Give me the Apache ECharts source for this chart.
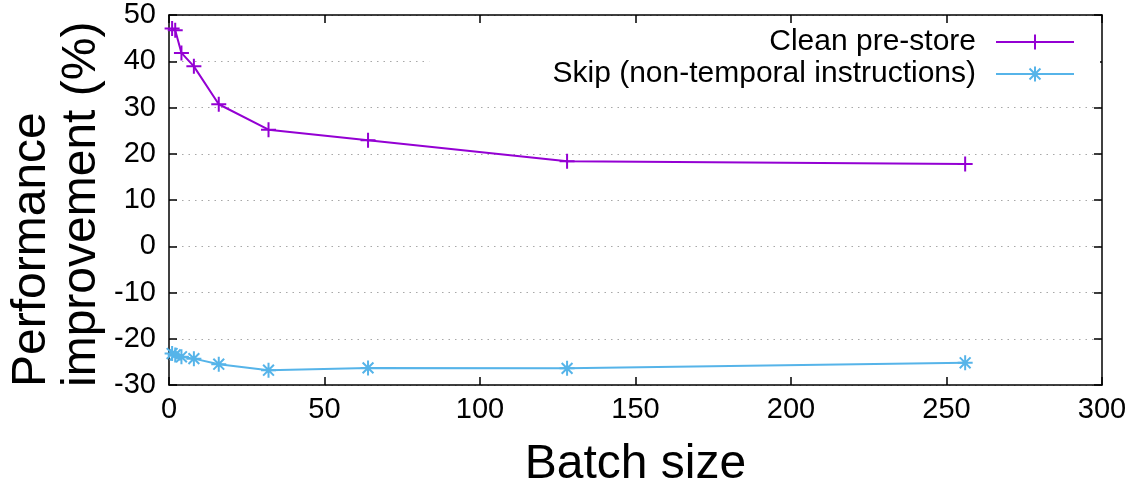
<!DOCTYPE html>
<html>
<head>
<meta charset="utf-8">
<script src="https://cdn.jsdelivr.net/npm/echarts@6/dist/echarts.min.js"></script>
<style>
  html, body { margin: 0; padding: 0; background: #fff; }
  #chart { width: 1139px; height: 487px; }
</style>
</head>
<body>
<div id="chart"></div>
<script>
// Batch sizes on the x axis
const batchSizes = [1, 2, 4, 8, 16, 32, 64, 128, 256];
// Performance improvement (%) for each batch size
const cleanPreStore = [47.1, 46.7, 41.8, 38.9, 30.7, 25.2, 22.9, 18.4, 17.8];
const skipNonTemporal = [-23.2, -23.5, -23.9, -24.3, -25.5, -26.8, -26.3, -26.4, -25.2];
// Axis tick values
const xTicks = [0, 50, 100, 150, 200, 250, 300];
const yTicks = [-30, -20, -10, 0, 10, 20, 30, 40, 50];

const seriesNames = ['Clean pre-store', 'Skip (non-temporal instructions)'];
const FONT = '"Liberation Sans", Arial, sans-serif';
const PURPLE = '#9400d3';
const BLUE = '#56b4e9';
const PLUS = 'path://M0,-1L0,1M-1,0L1,0';
const STAR = 'path://M0,-1L0,1M-1,0L1,0M-0.72,-0.72L0.72,0.72M-0.72,0.72L0.72,-0.72';

const toPairs = (ys) => batchSizes.map((x, i) => [x, ys[i]]);

const axisLine = { show: true, onZero: false, lineStyle: { color: '#000', width: 1.5 } };
const axisTick = { show: true, inside: true, length: 8, lineStyle: { color: '#000', width: 1.5 } };
const tickFont = { color: '#000', fontFamily: FONT, fontSize: 29 };

const xRange = { min: xTicks[0], max: xTicks[xTicks.length - 1], interval: xTicks[1] - xTicks[0] };
const yRange = { min: yTicks[0], max: yTicks[yTicks.length - 1], interval: yTicks[1] - yTicks[0] };

const chart = echarts.init(document.getElementById('chart'), null, { renderer: 'canvas' });

chart.setOption({
  animation: false,
  backgroundColor: '#fff',
  grid: { left: 169, right: 37, top: 15, bottom: 102, containLabel: false, outerBoundsMode: 'none' },
  xAxis: [
    Object.assign({
      type: 'value', position: 'bottom',
      axisLine, axisTick,
      axisLabel: Object.assign({ margin: 10 }, tickFont),
      splitLine: { show: false },
      name: 'Batch size', nameLocation: 'middle', nameGap: 56,
      nameTextStyle: { color: '#000', fontFamily: FONT, fontSize: 48 }
    }, xRange),
    Object.assign({
      type: 'value', position: 'top',
      axisLine, axisTick,
      axisLabel: { show: false },
      splitLine: { show: false }
    }, xRange)
  ],
  yAxis: [
    Object.assign({
      type: 'value', position: 'left',
      axisLine, axisTick,
      axisLabel: Object.assign({ margin: 13 }, tickFont),
      splitLine: { show: true, lineStyle: { color: '#a8a8a8', width: 1.2, type: [1.5, 5] } }
    }, yRange),
    Object.assign({
      type: 'value', position: 'right',
      axisLine, axisTick,
      axisLabel: { show: false },
      splitLine: { show: false }
    }, yRange)
  ],
  legend: [
    {
      data: [seriesNames[0]],
      align: 'right', right: 39, top: 23,
      padding: [4, 25, 45, 340],
      backgroundColor: '#fff',
      itemWidth: 78, itemHeight: 19,
      textStyle: { color: '#000', fontFamily: FONT, fontSize: 30, padding: [0, 15, 0, 0] },
      selectedMode: false
    },
    {
      data: [seriesNames[1]],
      align: 'right', right: 64, top: 59,
      padding: 0,
      itemWidth: 78, itemHeight: 19,
      textStyle: { color: '#000', fontFamily: FONT, fontSize: 30, padding: [0, 15, 0, 0] },
      selectedMode: false
    }
  ],
  graphic: [
    {
      type: 'text',
      x: 57, y: 387,
      rotation: Math.PI / 2,
      style: {
        text: 'Performance\nimprovement (%)',
        font: '48px ' + FONT,
        lineHeight: 50,
        fill: '#000',
        textAlign: 'left',
        textVerticalAlign: 'middle'
      }
    }
  ],
  series: [
    {
      name: seriesNames[0], type: 'line',
      xAxisIndex: 0, yAxisIndex: 0,
      data: toPairs(cleanPreStore),
      symbol: PLUS, symbolSize: 15,
      lineStyle: { color: PURPLE, width: 2 },
      itemStyle: { color: PURPLE, borderColor: PURPLE, borderWidth: 2 },
      clip: false
    },
    {
      name: seriesNames[1], type: 'line',
      xAxisIndex: 0, yAxisIndex: 0,
      data: toPairs(skipNonTemporal),
      symbol: STAR, symbolSize: 15,
      lineStyle: { color: BLUE, width: 2 },
      itemStyle: { color: BLUE, borderColor: BLUE, borderWidth: 2 },
      clip: false
    }
  ]
});
</script>
</body>
</html>
